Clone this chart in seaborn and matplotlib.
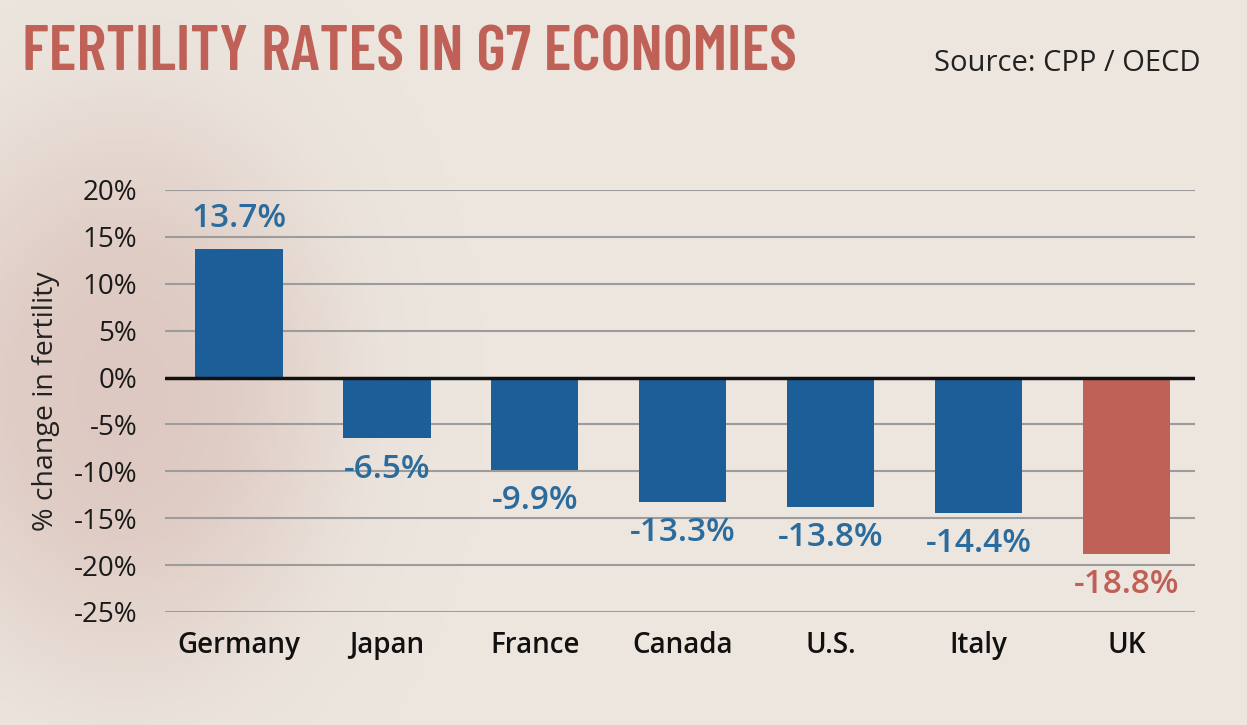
import matplotlib
matplotlib.use("Agg")
import matplotlib.pyplot as plt
import seaborn as sns
import numpy as np
import pandas as pd
from matplotlib import font_manager
from matplotlib.colors import to_rgb

countries = ["Germany", "Japan", "France", "Canada", "U.S.", "Italy", "UK"]
changes = [13.7, -6.5, -9.9, -13.3, -13.8, -14.4, -18.8]
highlight = ["other", "other", "other", "other", "other", "other", "UK"]
yticks = [20, 15, 10, 5, 0, -5, -10, -15, -20, -25]

BLUE = "#1c5f98"
BLUE_TXT = "#2a6c9e"
RED = "#bf6157"
BG = "#ece6df"
BLOTCH = "#d9c0b8"

df = pd.DataFrame({"country": countries, "change": changes, "group": highlight})

sns.set_theme(style="white")
plt.rcParams["font.family"] = ["Open Sans", "DejaVu Sans"]

names = {f.name for f in font_manager.fontManager.ttflist}
title_fonts = [n for n in ["Barlow Condensed", "Oswald"] if n in names]
title_fonts.append("DejaVu Sans")

fig = plt.figure(figsize=(12.47, 7.25), dpi=100)
fig.patch.set_facecolor(BG)

# soft background blotch (decoration)
bgax = fig.add_axes([0, 0, 1, 1], zorder=-10)
bgax.set_axis_off()
H, W = 145, 250
yy, xx = np.mgrid[0:H, 0:W]
cx, cy = 24, 78
d = ((xx - cx) / 42.0) ** 2 + ((yy - cy) / 55.0) ** 2
alpha = 0.75 * np.exp(-d ** 1.5)
img = np.zeros((H, W, 4))
img[..., :3] = to_rgb(BLOTCH)
img[..., 3] = alpha
bgax.imshow(img, extent=[0, 1, 0, 1], aspect="auto", origin="upper")
bgax.set_xlim(0, 1)
bgax.set_ylim(0, 1)

ax = fig.add_axes([0.1323, 0.1559, 0.8257, 0.5821])
ax.set_facecolor("none")

sns.barplot(data=df, x="country", y="change", hue="group",
            palette={"other": BLUE, "UK": RED}, dodge=False, legend=False,
            width=0.59, ax=ax, zorder=3, saturation=1, linewidth=0)

ax.set_ylim(-25, 20)
ax.set_xlim(-0.5, 6.46)
ax.set_yticks(yticks)
ax.set_yticklabels([f"{t}%" for t in yticks], fontsize=20, color="#1a1a1a")
ax.set_xticks(range(len(countries)))
ax.set_xticklabels(countries, fontsize=20, fontweight="semibold", color="#111111")
ax.tick_params(axis="y", length=0, pad=20)
ax.tick_params(axis="x", length=0, pad=14)
ax.set_xlabel("")
ax.set_ylabel("% change in fertility", fontsize=20.5, color="#222222", labelpad=10)
for s in ax.spines.values():
    s.set_visible(False)
for t in yticks:
    if t == 0:
        ax.axhline(0, color="#111111", lw=2.5, zorder=4)
    else:
        ax.axhline(t, color="#9c9c9c", lw=1.5, zorder=1)

for i, (c, v, g) in enumerate(zip(countries, changes, highlight)):
    col = RED if g == "UK" else BLUE_TXT
    if v >= 0:
        ax.text(i, v + 1.5, f"{v:.1f}%", ha="center", va="bottom", fontsize=24,
                color=col, fontweight="semibold")
    else:
        ax.text(i, v - 1.5, f"{v:.1f}%", ha="center", va="top", fontsize=24,
                color=col, fontweight="semibold")

fig.text(0.018, 0.925, "FERTILITY RATES IN G7 ECONOMIES", fontsize=46,
         fontweight="semibold", color=RED, ha="left", va="center",
         family=title_fonts)
fig.text(0.963, 0.912, "Source: CPP / OECD", fontsize=21, color="#222222",
         ha="right", va="center")

fig.savefig("out.png", dpi=100, facecolor=BG)
